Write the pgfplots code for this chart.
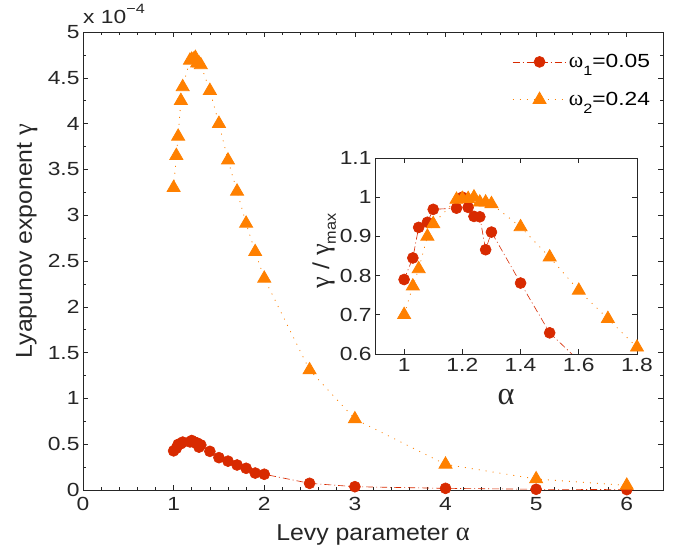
\documentclass[border=0pt]{standalone}
\usepackage{fontspec}
\setmainfont{Liberation Sans}[FakeStretch=1.08]
\newfontfamily\tickfont{Liberation Sans}[FakeStretch=1.2]
\newfontfamily\grk{Liberation Serif}[Scale=1.15]
\usepackage{pgfplots}
\pgfplotsset{compat=1.18}

\definecolor{cred}{RGB}{216,42,0}
\definecolor{corange}{RGB}{255,128,0}
\definecolor{axcol}{RGB}{38,38,38}

\newcommand{\tfs}{\tickfont\fontsize{19}{20}\selectfont}
\newcommand{\lfs}{\fontsize{23}{26}\selectfont}

\pgfplotstableread{
a g
1.00 0.427
1.03 0.456
1.05 0.498
1.08 0.505
1.10 0.523
1.18 0.525
1.20 0.540
1.22 0.526
1.24 0.514
1.26 0.513
1.28 0.468
1.30 0.492
1.40 0.422
1.50 0.353
1.60 0.315
1.70 0.273
1.80 0.237
1.90 0.185
2.00 0.172
2.50 0.073
3.00 0.036
4.00 0.018
5.00 0.008
6.00 0.004
}\redmain

\pgfplotstableread{
a g
1.00 3.30
1.03 3.65
1.05 3.86
1.08 4.25
1.10 4.40
1.18 4.69
1.20 4.70
1.22 4.70
1.24 4.72
1.26 4.66
1.28 4.66
1.30 4.64
1.40 4.36
1.50 4.00
1.60 3.60
1.70 3.26
1.80 2.91
1.90 2.60
2.00 2.31
2.50 1.31
3.00 0.775
4.00 0.28
5.00 0.12
6.00 0.05
}\orangemain

\pgfplotstableread{
a r
1.00 0.790
1.03 0.845
1.05 0.923
1.08 0.936
1.10 0.969
1.18 0.972
1.20 1.000
1.22 0.974
1.24 0.951
1.26 0.950
1.28 0.866
1.30 0.911
1.40 0.781
1.50 0.654
}\redinset

\pgfplotstableread{
a r
1.00 0.700
1.03 0.773
1.05 0.817
1.08 0.900
1.10 0.932
1.18 0.994
1.20 0.996
1.22 0.996
1.24 1.000
1.26 0.987
1.28 0.987
1.30 0.983
1.40 0.924
1.50 0.847
1.60 0.762
1.70 0.690
1.80 0.617
}\orangeinset

\pgfplotsset{
  mystyle/.style={
    scale only axis,
    tick align=inside,
    axis line style={axcol, line width=0.8pt},
    every tick/.style={axcol, line width=0.6pt},
    major tick length=5pt, minor tick length=3pt,
    tick label style={font=\tfs, text=black!85},
    /pgf/number format/assume math mode=true,
    /pgf/number format/fixed,
    scaled ticks=false,
  },
  redline/.style={cred, line width=0.6pt, dash pattern=on 7pt off 3pt on 1pt off 3pt,
    mark=*, mark size=5.5pt, mark options={solid, fill=cred, draw=cred}},
  orangeline/.style={corange, line width=0.8pt, dash pattern=on 1pt off 6pt,
    mark=triangle*, mark size=7.5pt, mark options={solid, fill=corange, draw=corange}},
}

\begin{document}
\begin{tikzpicture}[x=1pt,y=1pt]
\useasboundingbox (0,0) rectangle (679,551);

\begin{axis}[mystyle,
  at={(83pt,61pt)}, anchor=south west,
  width=580pt, height=458pt,
  xmin=0, xmax=6.4, ymin=0, ymax=5,
  xtick={0,1,2,3,4,5,6}, minor x tick num=4,
  ytick={0,0.5,1,1.5,2,2.5,3,3.5,4,4.5,5}, minor y tick num=1,
  xticklabel style={yshift=-4pt},
  clip=false,
  legend style={draw=none, fill=none, at={(axis cs:4.70,4.80)}, anchor=north west,
    font=\tfs, row sep=19pt, legend cell align=left},
  legend image code/.code={\draw[mark repeat=2,mark phase=2] plot coordinates {(0pt,0pt) (27pt,0pt) (54pt,0pt)};},
]
\addplot[redline] table[x=a,y=g] {\redmain};
\addlegendentry{{\grk ω}\raisebox{-0.4em}{\fontsize{13.5}{14}\selectfont 1}=0.05}
\addplot[orangeline] table[x=a,y=g] {\orangemain};
\addlegendentry{{\grk ω}\raisebox{-0.4em}{\fontsize{13.5}{14}\selectfont 2}=0.24}
\end{axis}

\node[anchor=base west, font=\tfs, text=black!85, inner sep=0pt] at (83,527) {x 10\raisebox{0.55em}{\fontsize{13.5}{14}\selectfont −4}};
\node[anchor=base, font=\lfs, text=black!85, inner sep=0pt] at (373,11) {Levy parameter {\grk α}};
\node[rotate=90, anchor=base, font=\lfs, text=black!85, inner sep=0pt] at (32,310) {Lyapunov exponent {\grk γ}};

\begin{axis}[mystyle,
  at={(375pt,197pt)}, anchor=south west,
  width=262pt, height=196pt,
  xmin=0.9, xmax=1.8, ymin=0.6, ymax=1.1,
  xtick={1,1.2,1.4,1.6,1.8},
  ytick={0.6,0.7,0.8,0.9,1,1.1},
  xticklabel style={yshift=-1pt},
  axis background/.style={fill=white},
  clip=true,
]
\addplot[redline] table[x=a,y=r] {\redinset};
\addplot[cred, line width=0.6pt, dash pattern=on 7pt off 3pt on 1pt off 3pt] coordinates {(1.5,0.654) (1.6,0.583)};
\addplot[orangeline] table[x=a,y=r] {\orangeinset};
\end{axis}

\node[rotate=90, anchor=base, font=\lfs, text=black!85, inner sep=0pt] at (329,300) {{\grk γ} / {\grk γ}\raisebox{-0.3em}{\fontsize{15}{16}\selectfont max}};
\node[anchor=base, font=\fontsize{28}{30}\selectfont, text=black!85, inner sep=0pt] at (506,146) {\grk α};
\end{tikzpicture}
\end{document}
